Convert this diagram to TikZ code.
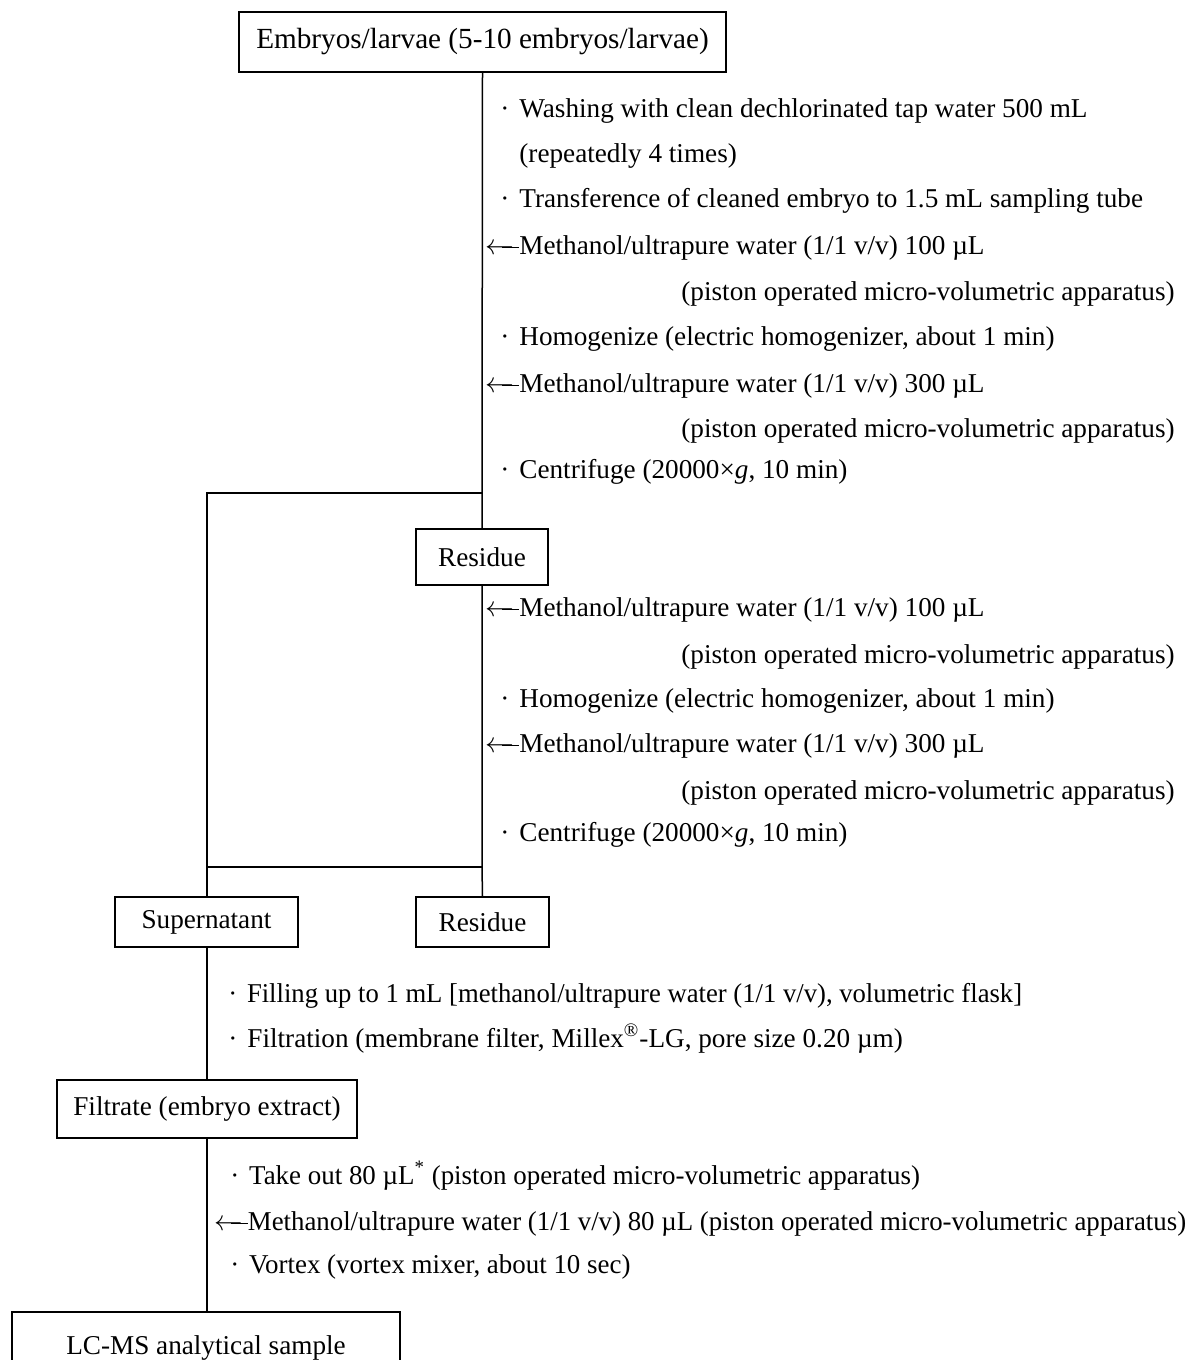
\documentclass[tikz,border=0pt]{standalone}
\usepackage{fontspec}
\setmainfont{Liberation Serif}
\newcommand\fsz{\fontsize{13.6}{16}\selectfont}
\newcommand\bul{\makebox[9.5pt][l]{·}}
\newcommand\larr{\makebox[17pt][l]{$\leftarrow$\hspace{-6pt}\rule[3.13pt]{8.5pt}{0.54pt}}}
\newcommand\narrow[1]{\scalebox{0.98}[1]{#1}}
\tikzset{
  txt/.style={inner sep=0pt, font=\fsz, anchor=base west},
  txtr/.style={inner sep=0pt, font=\fsz, anchor=base east},
  box/.style={draw, line width=0.75pt, inner sep=0pt, font=\fsz},
  conn/.style={line width=0.75pt}
}
\begin{document}
\begin{tikzpicture}[x=0.5pt,y=-0.5pt]
\useasboundingbox (0,0) rectangle (1193,1360);
% boxes
\node[box, minimum width=243.5pt, minimum height=30pt, font=\fontsize{14.6}{17}\selectfont] (top) at (482.5,42) {Embryos/larvae (5-10 embryos/larvae)};
\node[box, minimum width=66pt, minimum height=28pt] (res1) at (482,557) {Residue};
\node[box, minimum width=91.5pt, minimum height=25pt] (sup) at (206.5,922) {Supernatant};
\node[box, minimum width=66.5pt, minimum height=25pt] (res2) at (482.5,922) {Residue};
\node[box, minimum width=150pt, minimum height=29pt] (filt) at (207,1109) {Filtrate (embryo extract)};
\node[inner sep=0pt, font=\fsz, anchor=base] (lcms) at (206,1354) {LC-MS analytical sample};
\coordinate (lcmstop) at (207,1312);
\draw[conn] (12,1362) -- (12,1312) -- (400,1312) -- (400,1362);
% junctions
\coordinate (j1) at (482,493);
\coordinate (j1l) at (207,493);
\coordinate (j2) at (482,867);
\coordinate (j2l) at (207,867);
% connectors
\draw[conn] (top.south) -- (j1) -- (res1.north);
\draw[conn] (j1) -- (j1l) -- (j2l) -- (sup.north -| j1l);
\draw[conn] (res1.south) -- (j2) -- (res2.north);
\draw[conn] (j2) -- (j2l);
\draw[conn] (sup.south -| j1l) -- (filt.north);
\draw[conn] (filt.south) -- (lcmstop);
% texts block 1
\node[txt] (a1) at (500,117) {\bul Washing with clean dechlorinated tap water 500 mL};
\node[txt] (a2) at (500,162) {\hspace{9.5pt}(repeatedly 4 times)};
\node[txt] (a3) at (500,207) {\bul Transference of cleaned embryo to 1.5 mL sampling tube};
\node[txt] (a4) at (485,254) {\larr Methanol/ultrapure water (1/1 v/v) 100 µL};
\node[txtr] (a5) at (1175,300) {(piston operated micro-volumetric apparatus)};
\node[txt] (a6) at (500,345) {\bul Homogenize (electric homogenizer, about 1 min)};
\node[txt] (a7) at (485,392) {\larr Methanol/ultrapure water (1/1 v/v) 300 µL};
\node[txtr] (a8) at (1175,437) {(piston operated micro-volumetric apparatus)};
\node[txt] (a9) at (500,478) {\bul Centrifuge (20000×\textit{g}, 10 min)};
% block 2
\node[txt] (b1) at (485,616) {\larr Methanol/ultrapure water (1/1 v/v) 100 µL};
\node[txtr] (b2) at (1175,663) {(piston operated micro-volumetric apparatus)};
\node[txt] (b3) at (500,707) {\bul Homogenize (electric homogenizer, about 1 min)};
\node[txt] (b4) at (485,752) {\larr Methanol/ultrapure water (1/1 v/v) 300 µL};
\node[txtr] (b5) at (1175,799) {(piston operated micro-volumetric apparatus)};
\node[txt] (b6) at (500,841) {\bul Centrifuge (20000×\textit{g}, 10 min)};
% block 3
\node[txt] (c1) at (228,1002) {\narrow{\bul Filling up to 1 mL [methanol/ultrapure water (1/1 v/v), volumetric flask]}};
\node[txt] (c2) at (228,1047) {\bul Filtration (membrane filter, Millex\textsuperscript{®}-LG, pore size 0.20 µm)};
% block 4
\node[txt] (d1) at (230,1184) {\scalebox{0.99}[1]{\bul Take out 80 µL\textsuperscript{*} (piston operated micro-volumetric apparatus)}};
\node[txt] (d2) at (214,1230) {\scalebox{0.986}[1]{\larr Methanol/ultrapure water (1/1 v/v) 80 µL (piston operated micro-volumetric apparatus)}};
\node[txt] (d3) at (230,1273) {\scalebox{0.99}[1]{\bul Vortex (vortex mixer, about 10 sec)}};
\end{tikzpicture}
\end{document}
